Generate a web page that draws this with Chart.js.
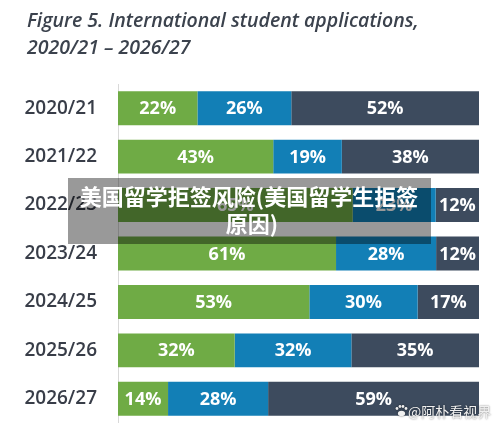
<!DOCTYPE html>
<html>
<head>
<meta charset="utf-8">
<script src="https://cdn.jsdelivr.net/npm/chart.js@4.4.1/dist/chart.umd.min.js"></script>
<style>
  html, body { margin: 0; padding: 0; background: #fff; }
  #wrap { width: 500px; height: 423px; position: relative; }
</style>
</head>
<body>
<div id="wrap"><canvas id="appChart"></canvas></div>
<script>
// data
const years = ['2020/21', '2021/22', '2022/23', '2023/24', '2024/25', '2025/26', '2026/27'];
const greenShare = [22, 43, 65, 61, 53, 32, 14];
const blueShare = [26, 19, 23, 28, 30, 32, 28];
const darkShare = [52, 38, 12, 12, 17, 35, 59];

const titleLines = ['Figure 5. International student applications,', '2020/21 \u2013 2026/27'];
const overlayLines = ['美国留学拒签风险(美国留学生拒签', '原因)'];
const watermark = '@阿朴看视界';

// rows are 100% stacked, so scale each row by its own total
const totals = years.map((_, i) => greenShare[i] + blueShare[i] + darkShare[i]);
const norm = arr => arr.map((v, i) => v / totals[i] * 100);

const series = [
    { raw: greenShare, color: '#6fab45' },
    { raw: blueShare, color: '#127fb6' },
    { raw: darkShare, color: '#3d4b5e' }
];

// white % labels in the middle of each segment
const segmentLabels = {
    id: 'segmentLabels',
    afterDatasetsDraw(chart) {
        const ctx = chart.ctx;
        ctx.save();
        ctx.fillStyle = '#ffffff';
        ctx.font = "bold 18px 'Open Sans'";
        ctx.textAlign = 'center';
        ctx.textBaseline = 'middle';
        chart.data.datasets.forEach((ds, di) => {
            chart.getDatasetMeta(di).data.forEach((bar, i) => {
                const mid = (bar.x + bar.base) / 2;
                ctx.fillText(ds.rawValues[i] + '%', mid, bar.y + 1);
            });
        });
        ctx.restore();
    }
};

// title and the overlaid captions
const decorations = {
    id: 'decorations',
    afterDraw(chart) {
        const ctx = chart.ctx;
        ctx.save();
        ctx.fillStyle = '#3b424d';
        ctx.font = "italic 600 19.5px 'Open Sans'";
        ctx.textAlign = 'left';
        ctx.textBaseline = 'alphabetic';
        ctx.fillText(titleLines[0], 27, 27);
        ctx.fillText(titleLines[1], 27, 54);

        // dark caption box
        ctx.fillStyle = 'rgba(0,0,0,0.4)';
        ctx.fillRect(68, 178, 363, 66);
        ctx.fillStyle = '#ffffff';
        ctx.font = "bold 22px 'Noto Sans CJK SC'";
        ctx.textAlign = 'center';
        ctx.fillText(overlayLines[0], 249, 205);
        ctx.fillText(overlayLines[1], 252, 232);

        // bottom-right watermark
        ctx.font = "14px 'Noto Sans CJK SC'";
        ctx.textAlign = 'left';
        ctx.shadowColor = 'rgba(0,0,0,0.6)';
        ctx.shadowBlur = 2;
        ctx.fillStyle = '#f0f0f0';
        ctx.fillText(watermark, 408, 417);
        // paw
        ctx.beginPath();
        ctx.ellipse(401.5, 413.5, 3.6, 2.8, 0, 0, Math.PI * 2);
        ctx.fill();
        [[397, 408.5], [400, 406.5], [403, 406.5], [406, 408.5]].forEach(p => {
            ctx.beginPath();
            ctx.arc(p[0], p[1], 1.4, 0, Math.PI * 2);
            ctx.fill();
        });
        ctx.restore();
    }
};

const ctx = document.getElementById('appChart').getContext('2d');
new Chart(ctx, {
    type: 'bar',
    data: {
        labels: years,
        datasets: series.map(s => ({
            data: norm(s.raw),
            rawValues: s.raw,
            backgroundColor: s.color,
            borderWidth: 0,
            barPercentage: 0.7,
            categoryPercentage: 1
        }))
    },
    options: {
        indexAxis: 'y',
        responsive: true,
        maintainAspectRatio: false,
        animation: false,
        layout: { padding: { top: 84, right: 21, bottom: 0, left: 0 } },
        plugins: {
            legend: { display: false },
            tooltip: { enabled: false }
        },
        scales: {
            x: {
                stacked: true,
                min: 0,
                max: 100,
                display: false
            },
            y: {
                stacked: true,
                afterFit: scale => {
                    scale.width = 118;
                    scale.paddingTop = 0;
                    scale.paddingBottom = 0;
                },
                grid: { display: false, drawTicks: false },
                border: { display: true, color: '#d9d9d9', width: 1 },
                ticks: {
                    padding: 21,
                    color: '#383d48',
                    font: { family: 'Open Sans', size: 19, weight: '600' }
                }
            }
        }
    },
    plugins: [segmentLabels, decorations]
});
</script>
</body>
</html>
